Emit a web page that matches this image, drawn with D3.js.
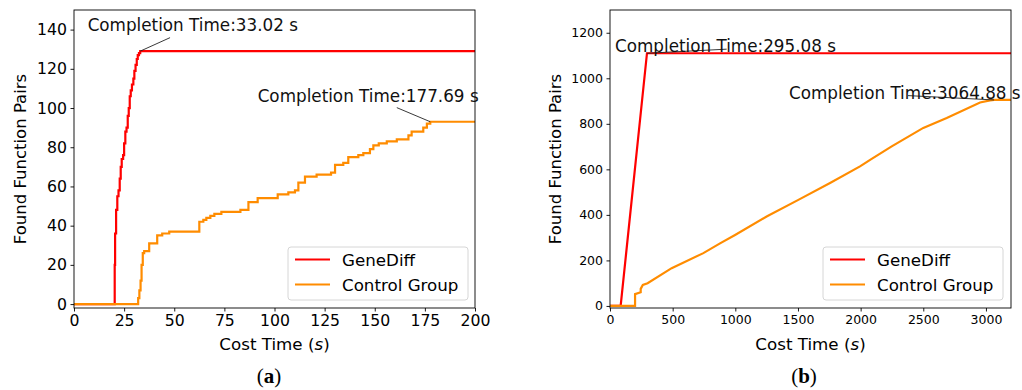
<!DOCTYPE html>
<html>
<head>
<meta charset="utf-8">
<script src="https://cdn.jsdelivr.net/npm/d3@7/dist/d3.min.js"></script>
<style>
  body { margin: 0; background: #fff; }
  svg { font-family: "DejaVu Sans", sans-serif; }
</style>
</head>
<body>
<div id="chart"></div>
<script>
// series values: [cost time (s), found pairs]
var seriesNames = ["GeneDiff", "Control Group"];
var seriesColors = ["#ff0000", "#ff8c00"];

var leftGeneDiff = [[0,0],[20.2,0],[20.3,20],[20.5,36],[21,48],[21.6,55],[22.2,58],[22.8,64],[23.3,70],
  [23.8,74],[24.5,76],[25,82],[25.6,88],[26.2,90],[26.8,96],[27.3,100],[27.8,106],[28.3,109],[28.9,112],
  [29.6,115],[30.1,119],[30.7,122],[31.3,125],[31.8,127],[32.4,128],[33.02,129],[200,129]];

var leftControl = [[0,0],[31.7,0],[32,3],[32.6,7],[33.2,12],[33.7,20],[34.3,26],[35,27],[37.5,31],
  [41.5,35],[44,36],[47.5,37],[62.5,42],[64.5,43],[66,44],[68,45],[70,46],[73.5,47],[83,48],[87,52],
  [91.6,54],[101.6,56],[106.9,57],[110.2,58],[111.9,62],[115.2,65],[121,66],[128.2,67],[130.2,71],
  [134.3,72],[136.8,75],[141.8,76],[144.3,77],[147.6,79],[149.3,81],[152,82],[156,83],[161,84],
  [166.8,86],[168.4,88],[174.2,90],[176,92],[177.69,93],[200,93]];

var rightGeneDiff = [[0,0],[85,0],[295.08,1110],[3200,1110]];

var rightControl = [[0,0],[200,0],[200,52],[245,60],[245,75],[262,92],[300,100],[492,166],[745,232],
  [878,275],[998,312],[1250,393],[1503,466],[1756,540],[1995,613],[2085,645],[2248,701],[2500,782],
  [2687,826],[2953,894],[3033,903],[3064.88,905],[3200,905]];

var leftXTicks = [0, 25, 50, 75, 100, 125, 150, 175, 200];
var leftYTicks = [0, 20, 40, 60, 80, 100, 120, 140];
var rightXTicks = [0, 500, 1000, 1500, 2000, 2500, 3000];
var rightYTicks = [0, 200, 400, 600, 800, 1000, 1200];

// annotation: label, target point, text position, line start (data units)
var leftNotes = [
  {label: "Completion Time:33.02 s", xy: [33.02, 129], text: [6.8, 139.3], from: [47.9, 135.9]},
  {label: "Completion Time:177.69 s", xy: [177.69, 93], text: [91.6, 103.2], from: [161, 100.2]}
];
var rightNotes = [
  {label: "Completion Time:295.08 s", xy: [295.08, 1110], text: [40, 1115], from: [931, 1128]},
  {label: "Completion Time:3064.88 s", xy: [3064.88, 905], text: [1428, 909], from: [2378, 924]}
];

var svg = d3.select("#chart").append("svg")
    .attr("width", 1022)
    .attr("height", 390);

var drawPanel = function (cfg) {
    var x = d3.scaleLinear().domain(cfg.xDomain).range([cfg.left, cfg.right]);
    var y = d3.scaleLinear().domain(cfg.yDomain).range([cfg.bottom, cfg.top]);
    var g = svg.append("g");

    g.append("clipPath").attr("id", cfg.id + "-clip")
        .append("rect")
        .attr("x", cfg.left).attr("y", cfg.top)
        .attr("width", cfg.right - cfg.left).attr("height", cfg.bottom - cfg.top);

    // lines
    var line = d3.line()
        .x(function (d) { return x(d[0]); })
        .y(function (d) { return y(d[1]); })
        .curve(cfg.curve);

    g.selectAll("path.series")
        .data(cfg.series)
        .enter()
        .append("path")
        .attr("class", "series")
        .attr("clip-path", "url(#" + cfg.id + "-clip)")
        .attr("d", function (d) { return line(d); })
        .attr("fill", "none")
        .attr("stroke", function (d, i) { return seriesColors[i]; })
        .attr("stroke-width", 2.2);

    // frame
    g.append("rect")
        .attr("x", cfg.left).attr("y", cfg.top)
        .attr("width", cfg.right - cfg.left).attr("height", cfg.bottom - cfg.top)
        .attr("fill", "none").attr("stroke", "#000").attr("stroke-width", 0.9);

    var xAxis = g.append("g")
        .attr("transform", "translate(0," + cfg.bottom + ")")
        .call(d3.axisBottom(x).tickValues(cfg.xTicks).tickSize(3.5).tickPadding(3.5).tickFormat(d3.format("d")));
    var yAxis = g.append("g")
        .attr("transform", "translate(" + cfg.left + ",0)")
        .call(d3.axisLeft(y).tickValues(cfg.yTicks).tickSize(3.5).tickPadding(3.5).tickFormat(d3.format("d")));
    [xAxis, yAxis].forEach(function (a) {
        a.select(".domain").remove();
        a.selectAll("line").attr("stroke", "#000").attr("stroke-width", 0.9);
        a.selectAll("text")
            .attr("fill", "#000")
            .style("font-family", "DejaVu Sans")
            .style("font-size", cfg.tickSize + "px");
    });

    // axis titles
    var xl = g.append("text")
        .attr("x", (cfg.left + cfg.right) / 2)
        .attr("y", 350)
        .attr("text-anchor", "middle")
        .style("font-size", "16.7px");
    xl.append("tspan").text("Cost Time (");
    xl.append("tspan").style("font-style", "italic").text("s");
    xl.append("tspan").text(")");

    g.append("text")
        .attr("transform", "translate(" + cfg.yLabelX + "," + ((cfg.top + cfg.bottom) / 2) + ") rotate(-90)")
        .attr("text-anchor", "middle")
        .style("font-size", "16.5px")
        .text("Found Function Pairs");

    // annotations
    var notes = g.selectAll("g.note").data(cfg.notes).enter().append("g").attr("class", "note");
    notes.append("line")
        .attr("x1", function (d) { return x(d.from[0]); })
        .attr("y1", function (d) { return y(d.from[1]); })
        .attr("x2", function (d) { return x(d.xy[0]); })
        .attr("y2", function (d) { return y(d.xy[1]); })
        .attr("stroke", "#222").attr("stroke-width", 0.9);
    notes.append("text")
        .attr("x", function (d) { return x(d.text[0]); })
        .attr("y", function (d) { return y(d.text[1]); })
        .style("font-size", "16.8px")
        .attr("fill", "#111")
        .text(function (d) { return d.label; });

    // legend
    var lg = g.append("g").attr("transform", "translate(" + cfg.legendX + ",247)");
    lg.append("rect")
        .attr("width", 180).attr("height", 53).attr("rx", 3)
        .attr("fill", "#fff").attr("fill-opacity", 0.8)
        .attr("stroke", "#d6d6d6").attr("stroke-width", 1);
    var item = lg.selectAll("g.item").data(seriesNames).enter().append("g")
        .attr("class", "item")
        .attr("transform", function (d, i) { return "translate(0," + (12.5 + i * 25) + ")"; });
    item.append("line")
        .attr("x1", 7).attr("x2", 42)
        .attr("stroke", function (d, i) { return seriesColors[i]; })
        .attr("stroke-width", 2.2);
    item.append("text")
        .attr("x", 54).attr("y", 6)
        .style("font-size", "16.7px")
        .text(function (d) { return d; });

    // panel caption
    var cap = g.append("text")
        .attr("x", cfg.capX).attr("y", 383)
        .attr("text-anchor", "middle")
        .style("font-family", "Liberation Serif, serif")
        .style("font-size", "21px");
    cap.append("tspan").text("(");
    cap.append("tspan").style("font-weight", "bold").text(cfg.letter);
    cap.append("tspan").text(")");
};

drawPanel({
    id: "a", left: 74, right: 475, top: 10, bottom: 308,
    xDomain: [0, 200], yDomain: [-2, 150],
    xTicks: leftXTicks, yTicks: leftYTicks, tickSize: 15.7,
    series: [leftGeneDiff, leftControl], curve: d3.curveStepAfter,
    notes: leftNotes, legendX: 288, yLabelX: 26, capX: 269, letter: "a"
});

drawPanel({
    id: "b", left: 610, right: 1011, top: 10, bottom: 308,
    xDomain: [0, 3200], yDomain: [-9, 1300],
    xTicks: rightXTicks, yTicks: rightYTicks, tickSize: 12.5,
    series: [rightGeneDiff, rightControl], curve: d3.curveLinear,
    notes: rightNotes, legendX: 823, yLabelX: 561, capX: 804, letter: "b"
});
</script>
</body>
</html>
